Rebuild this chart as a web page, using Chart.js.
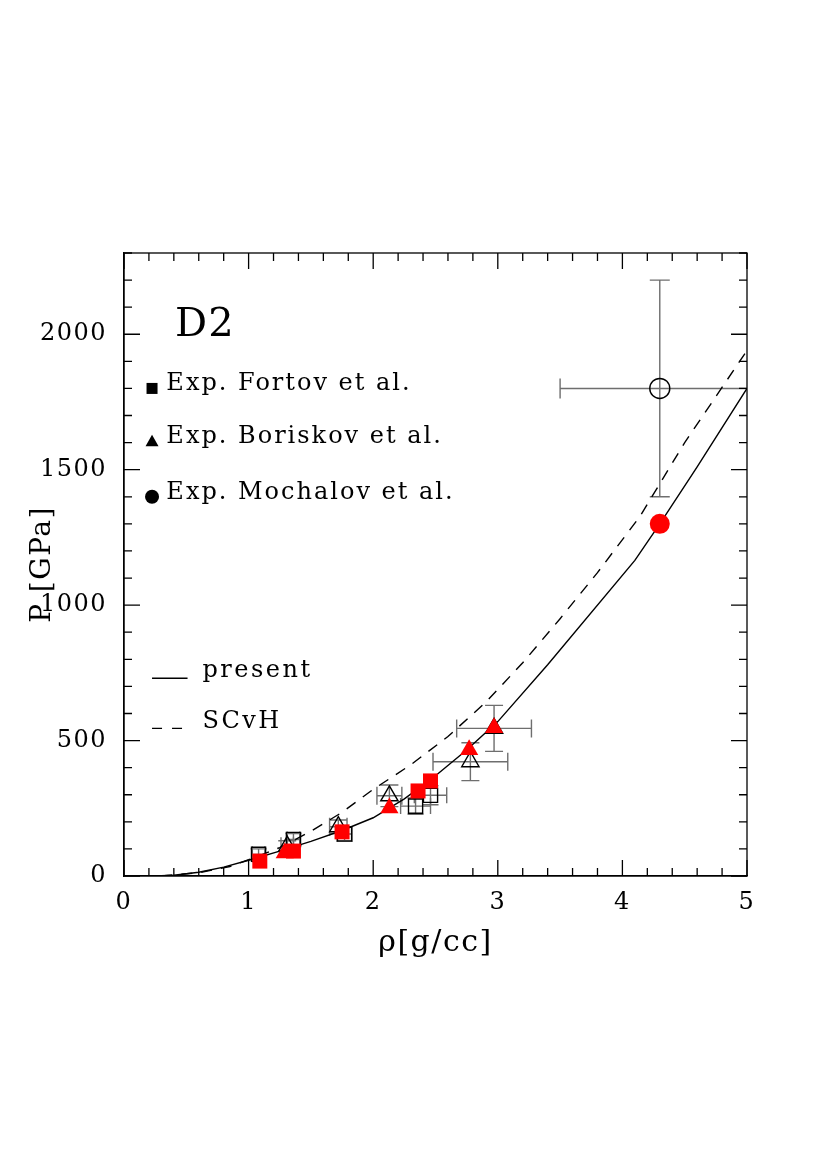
<!DOCTYPE html>
<html>
<head>
<meta charset="utf-8">
<script src="https://cdn.jsdelivr.net/npm/chart.js@4.4.1/dist/chart.umd.min.js"></script>
<style>
  body { margin: 0; background: #fff; }
  #wrap { width: 830px; height: 1175px; }
</style>
</head>
<body>
<div id="wrap"><canvas id="chart"></canvas></div>
<script>
// DATA
// theory curves, rho [g/cc] and P [GPa]
const presentRho = [0.25, 0.4, 0.6, 0.8, 1.0, 1.25, 1.5, 1.75, 2.0, 2.25, 2.5, 2.75, 3.0, 3.4, 4.1, 4.3, 4.6, 5.0];
const presentP = [0, 3, 14, 33, 58, 92, 128, 168, 215, 285, 370, 465, 570, 780, 1165, 1300, 1510, 1800];
const scvhRho = [0.3, 0.6, 0.85, 1.0, 1.25, 1.5, 1.75, 2.0, 2.3, 2.6, 2.9, 3.2, 3.5, 3.8, 4.14, 4.5, 5.0];
const scvhP = [0, 12, 35, 60, 105, 165, 235, 320, 410, 515, 640, 787, 950, 1120, 1327, 1600, 1940];

// Fortov et al. (open = experiment with errors, red = present)
const fortovOpenRho = [1.08, 1.36, 1.77, 2.34, 2.46];
const fortovOpenP = [80, 135, 155, 258, 298];
const fortovErrRho = [0.05, 0.05, 0.06, 0.12, 0.13];
const fortovErrP = [20, 22, 25, 30, 35];
const fortovRedRho = [1.09, 1.36, 1.75, 2.36, 2.46];
const fortovRedP = [55, 92, 163, 314, 351];

// Boriskov et al.
const boriskovOpenRho = [1.31, 1.72, 2.13, 2.78, 2.97];
const boriskovOpenP = [110, 182, 296, 422, 545];
const boriskovErrRho = [0.05, 0.07, 0.1, 0.3, 0.3];
const boriskovErrP = [20, 25, 40, 70, 85];
const boriskovRedRho = [1.29, 2.13, 2.77, 2.97];
const boriskovRedP = [85, 251, 466, 547];

// Mochalov et al.
const mochalovOpenRho = [4.3];
const mochalovOpenP = [1800];
const mochalovErrRho = [0.8];
const mochalovErrP = [400];
const mochalovRedRho = [4.3];
const mochalovRedP = [1300];

const xTicks = [0, 1, 2, 3, 4, 5];
const yTicks = [0, 500, 1000, 1500, 2000];

const pts = (xs, ys) => xs.map((v, i) => ({ x: v, y: ys[i] }));
const FONT = "'DejaVu Serif', serif";

// wider letter spacing, closer to the plotter font
const spacing = {
  id: "spacing",
  beforeDraw(chart) { chart.ctx.letterSpacing = "1.5px"; },
};

// error bars under the markers
const errorBars = {
  id: "errorBars",
  beforeDatasetsDraw(chart) {
    const { ctx, chartArea: a, scales: { x, y } } = chart;
    ctx.save();
    ctx.beginPath();
    ctx.rect(a.left, a.top, a.right - a.left, a.bottom - a.top);
    ctx.clip();
    ctx.strokeStyle = "#6e6e6e";
    ctx.lineWidth = 1.4;
    chart.data.datasets.forEach((ds) => {
      if (!ds.errRho) return;
      const cap = ds.cap || 9;
      ds.data.forEach((p, i) => {
        const px = x.getPixelForValue(p.x), py = y.getPixelForValue(p.y);
        const x0 = x.getPixelForValue(p.x - ds.errRho[i]), x1 = x.getPixelForValue(p.x + ds.errRho[i]);
        const y0 = y.getPixelForValue(p.y - ds.errP[i]), y1 = y.getPixelForValue(p.y + ds.errP[i]);
        ctx.beginPath();
        ctx.moveTo(x0, py); ctx.lineTo(x1, py);
        ctx.moveTo(x0, py - cap); ctx.lineTo(x0, py + cap);
        ctx.moveTo(x1, py - cap); ctx.lineTo(x1, py + cap);
        ctx.moveTo(px, y0); ctx.lineTo(px, y1);
        ctx.moveTo(px - cap, y0); ctx.lineTo(px + cap, y0);
        ctx.moveTo(px - cap, y1); ctx.lineTo(px + cap, y1);
        ctx.stroke();
      });
    });
    ctx.restore();
  },
};

// frame with inward ticks on all four sides
const frameTicks = {
  id: "frameTicks",
  afterDatasetsDraw(chart) {
    const { ctx, chartArea: a, scales: { x, y } } = chart;
    ctx.save();
    ctx.strokeStyle = "#000";
    ctx.lineWidth = 1.3;
    ctx.strokeRect(a.left, a.top, a.right - a.left, a.bottom - a.top);
    ctx.beginPath();
    for (let i = 0; i <= 25; i++) {
      const v = i * 0.2;
      const len = i % 5 === 0 ? 16 : 8;
      const px = x.getPixelForValue(v);
      ctx.moveTo(px, a.bottom); ctx.lineTo(px, a.bottom - len);
      ctx.moveTo(px, a.top); ctx.lineTo(px, a.top + len);
    }
    for (let v = 0; v <= 2300; v += 100) {
      const len = v % 500 === 0 ? 16 : 8;
      const py = y.getPixelForValue(v);
      ctx.moveTo(a.left, py); ctx.lineTo(a.left + len, py);
      ctx.moveTo(a.right, py); ctx.lineTo(a.right - len, py);
    }
    ctx.stroke();
    ctx.restore();
  },
};

// in-plot labels and key
const keyPlugin = {
  id: "keyPlugin",
  afterDraw(chart) {
    const { ctx, scales: { x, y } } = chart;
    ctx.save();
    ctx.fillStyle = "#000";
    ctx.strokeStyle = "#000";
    ctx.textBaseline = "alphabetic";
    ctx.letterSpacing = "1px";
    ctx.font = "40px " + FONT;
    ctx.fillText("D2", x.getPixelForValue(0.41), y.getPixelForValue(1993));

    ctx.font = "24px " + FONT;
    ctx.letterSpacing = "2px";
    const mx = x.getPixelForValue(0.225);
    const tx = x.getPixelForValue(0.34);
    // square
    let my = y.getPixelForValue(1800);
    ctx.fillRect(mx - 5.5, my - 5.5, 11, 11);
    ctx.fillText("Exp. Fortov et al.", tx, my + 2);
    // triangle
    my = y.getPixelForValue(1605);
    ctx.beginPath();
    ctx.moveTo(mx, my - 6.5); ctx.lineTo(mx + 6.5, my + 5); ctx.lineTo(mx - 6.5, my + 5);
    ctx.closePath(); ctx.fill();
    ctx.fillText("Exp. Boriskov et al.", tx, my + 2);
    // circle
    my = y.getPixelForValue(1400);
    ctx.beginPath(); ctx.arc(mx, my, 7, 0, Math.PI * 2); ctx.fill();
    ctx.fillText("Exp. Mochalov et al.", tx, my + 2);

    // line key
    const lx0 = x.getPixelForValue(0.225), lx1 = x.getPixelForValue(0.51);
    const lt = x.getPixelForValue(0.63);
    ctx.letterSpacing = "2.5px";
    ctx.lineWidth = 1.4;
    my = y.getPixelForValue(730);
    ctx.beginPath(); ctx.moveTo(lx0, my); ctx.lineTo(lx1, my); ctx.stroke();
    ctx.fillText("present", lt, my - 1);
    my = y.getPixelForValue(545);
    ctx.setLineDash([10, 10]);
    ctx.beginPath(); ctx.moveTo(lx0, my); ctx.lineTo(lx1, my); ctx.stroke();
    ctx.setLineDash([]);
    ctx.fillText("SCvH", lt, my);
    ctx.restore();
  },
};

const config = {
  type: "scatter",
  data: {
    datasets: [
      { data: pts(mochalovRedRho, mochalovRedP), pointStyle: "circle", pointRadius: 10, backgroundColor: "#ff0000", borderColor: "#ff0000", borderWidth: 0 },
      { data: pts(boriskovRedRho, boriskovRedP), pointStyle: "triangle", pointRadius: 10.5, backgroundColor: "#ff0000", borderColor: "#ff0000", borderWidth: 0 },
      { data: pts(fortovRedRho, fortovRedP), pointStyle: "rect", pointRadius: 10.6, backgroundColor: "#ff0000", borderColor: "#ff0000", borderWidth: 0 },
      { data: pts(mochalovOpenRho, mochalovOpenP), errRho: mochalovErrRho, errP: mochalovErrP, cap: 10, pointStyle: "circle", pointRadius: 10, backgroundColor: "rgba(0,0,0,0)", borderColor: "#000", borderWidth: 1.4 },
      { data: pts(boriskovOpenRho, boriskovOpenP), errRho: boriskovErrRho, errP: boriskovErrP, cap: 9, pointStyle: "triangle", pointRadius: 10, backgroundColor: "rgba(0,0,0,0)", borderColor: "#000", borderWidth: 1.4 },
      { data: pts(fortovOpenRho, fortovOpenP), errRho: fortovErrRho, errP: fortovErrP, cap: 8, pointStyle: "rect", pointRadius: 10, backgroundColor: "rgba(0,0,0,0)", borderColor: "#000", borderWidth: 1.4 },
      { type: "line", data: pts(presentRho, presentP), borderColor: "#000", borderWidth: 1.4, pointRadius: 0, tension: 0, fill: false },
      { type: "line", data: pts(scvhRho, scvhP), borderColor: "#000", borderWidth: 1.4, borderDash: [11, 9], pointRadius: 0, tension: 0, fill: false },
    ],
  },
  options: {
    responsive: true,
    maintainAspectRatio: false,
    animation: false,
    layout: { padding: { left: 0, right: 83, top: 253, bottom: 214 } },
    plugins: { legend: { display: false }, tooltip: { enabled: false } },
    scales: {
      x: {
        type: "linear",
        min: 0,
        max: 5,
        afterFit: (s) => { s.height = 85; },
        afterBuildTicks: (s) => { s.ticks = xTicks.map((v) => ({ value: v })); },
        grid: { display: false, drawTicks: false },
        border: { display: true, color: "#000", width: 1.3 },
        ticks: { padding: 12, color: "#000", font: { family: FONT, size: 24 }, maxRotation: 0, callback: (v) => String(v) },
        title: { display: true, text: "ρ[g/cc]", color: "#000", font: { family: FONT, size: 30 }, padding: 0 },
      },
      y: {
        type: "linear",
        min: 0,
        max: 2300,
        afterFit: (s) => { s.width = 124; },
        afterBuildTicks: (s) => { s.ticks = yTicks.map((v) => ({ value: v })); },
        grid: { display: false, drawTicks: false },
        border: { display: true, color: "#000", width: 1.3 },
        ticks: { padding: 17, color: "#000", font: { family: FONT, size: 24 }, callback: (v) => String(v) },
        title: { display: true, text: "P [GPa]", color: "#000", font: { family: FONT, size: 28 }, padding: { top: 26, bottom: 0 } },
      },
    },
  },
  plugins: [spacing, errorBars, frameTicks, keyPlugin],
};

// RENDER
const chart = new Chart(document.getElementById("chart"), config);
</script>
</body>
</html>
